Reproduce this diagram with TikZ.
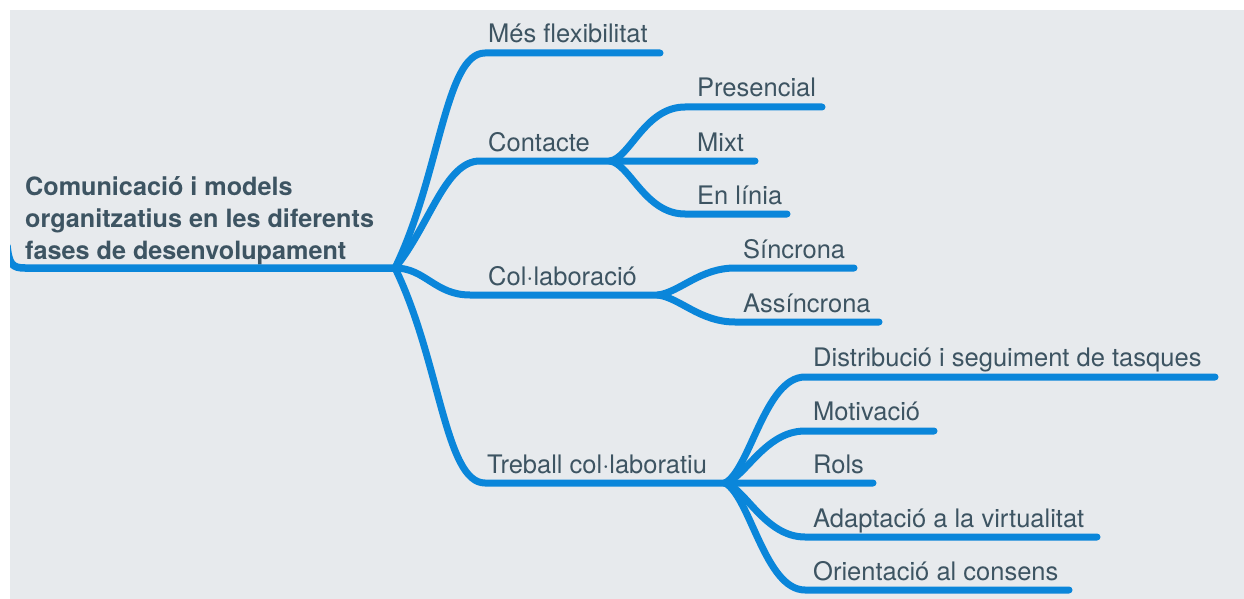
\documentclass[tikz,border=0pt]{standalone}
\usepackage{fontspec}
\setmainfont{TeX Gyre Heros}
\definecolor{branch}{HTML}{0A86DA}
\definecolor{ink}{HTML}{3D5462}
\definecolor{paper}{HTML}{E7EAED}

\begin{document}
\begin{tikzpicture}
[x=1pt,y=-1pt,
 leaf/.style = {anchor=base west, inner sep=0pt, text=ink, font=\fontsize{25.5}{30}\selectfont},
 root/.style = {anchor=base west, inner sep=0pt, text=ink, align=left, font=\bfseries\fontsize{25.2}{32}\selectfont},
 twig/.style = {draw=branch, line width=7pt, line cap=round, line join=round},]
\useasboundingbox (0,0) rectangle (1244,599);
\fill[paper] (10,10) rectangle (1244,599);
\coordinate (R0) at (7,246);
\coordinate (H1) at (395,268);
\coordinate (H2) at (610,161);
\coordinate (H3) at (658,295);
\coordinate (H4) at (725,483);
\coordinate (Emes) at (660,53);
\coordinate (Epre) at (822,107);
\coordinate (Emix) at (755,161);
\coordinate (Elin) at (787,214);
\coordinate (Esin) at (854,268);
\coordinate (Eass) at (879,322);
\coordinate (Edis) at (1215,377);
\coordinate (Emot) at (934,431);
\coordinate (Erol) at (873,483);
\coordinate (Eada) at (1097,537);
\coordinate (Eori) at (1069,590);
\node (com) at (25,259) [root] {Comunicació i models\\organitzatius en les diferents\\fases de desenvolupament};
\node (mes) at (488,43) [leaf] {Més flexibilitat};
\node (con) at (488,151) [leaf] {Contacte};
\node (pre) at (697,97) [leaf] {Presencial};
\node (mix) at (697,151) [leaf] {Mixt};
\node (lin) at (697,204) [leaf] {En línia};
\node (col) at (488,285) [leaf] {Col·laboració};
\node (sin) at (743,258) [leaf] {Síncrona};
\node (ass) at (743,312) [leaf] {Assíncrona};
\node (tre) at (487,473) [leaf] {Treball col·laboratiu};
\node (dis) at (813,366) [leaf] {Distribució i seguiment de tasques};
\node (mot) at (813,420) [leaf] {Motivació};
\node (rol) at (813,473) [leaf] {Rols};
\node (ada) at (813,527) [leaf] {Adaptació a la virtualitat};
\node (ori) at (813,580) [leaf] {Orientació al consens};
\begin{scope}
\clip (10,10) rectangle (1244,599);
\draw[twig, line width=7.5pt] (R0) .. controls (9,264) and (12,268) .. (25,268) -- (H1);
\end{scope}
\draw[twig] (H1) .. controls (440,176) and (445,53) .. (485,53) -- (Emes);
\draw[twig] (H1) .. controls (430,225) and (445,161) .. (480,161) -- (H2) -- (Emix);
\draw[twig] (H1) .. controls (425,268) and (435,295) .. (470,295) -- (H3);
\draw[twig] (H1) .. controls (440,360) and (445,483) .. (485,483) -- (H4) -- (Erol);
\draw[twig] (H2) .. controls (630,158) and (645,107) .. (685,107) -- (Epre);
\draw[twig] (H2) .. controls (630,164) and (645,214) .. (685,214) -- (Elin);
\draw[twig] (H3) .. controls (680,292) and (700,268) .. (735,268) -- (Esin);
\draw[twig] (H3) .. controls (680,298) and (700,322) .. (735,322) -- (Eass);
\draw[twig] (H4) .. controls (750,470) and (765,377) .. (805,377) -- (Edis);
\draw[twig] (H4) .. controls (745,478) and (765,431) .. (805,431) -- (Emot);
\draw[twig] (H4) .. controls (745,488) and (765,537) .. (805,537) -- (Eada);
\draw[twig] (H4) .. controls (750,496) and (765,590) .. (805,590) -- (Eori);
\end{tikzpicture}
\end{document}
